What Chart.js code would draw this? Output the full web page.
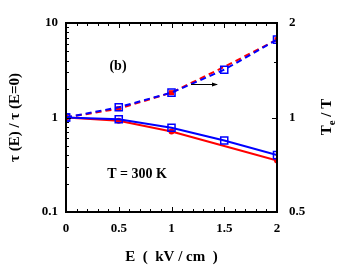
<!DOCTYPE html>
<html>
<head>
<meta charset="utf-8">
<script src="https://cdn.jsdelivr.net/npm/chart.js@4"></script>
<style>
  body { margin: 0; background: #fff; }
</style>
</head>
<body>
<canvas id="myChart" width="340" height="273"></canvas>
<script>
// values
var energy = [0, 0.5, 1, 1.5, 2];
var tauRed = [1, 0.925, 0.71, 0.50, 0.35];
var tauBlue = [1, 0.957, 0.78, 0.57, 0.40];
var teRed = [1, 1.067, 1.20, 1.45, 1.77];
var teBlue = [1, 1.078, 1.20, 1.42, 1.77];
var xTicks = [0, 0.5, 1, 1.5, 2];
var leftTicks = [0.1, 1, 10];
var rightTicks = [0.5, 1, 2];

var serif = '"Liberation Serif", "DejaVu Serif", serif';

function pts(ys) {
  return energy.map(function (x, i) { return { x: x, y: ys[i] }; });
}

// frame, inward ticks, labels and arrow
var extras = {
  id: 'extras',
  afterDraw: function (chart) {
    var c = chart.ctx, a = chart.chartArea;
    var sx = chart.scales.x, sy = chart.scales.y, sy2 = chart.scales.y2;
    c.save();
    c.strokeStyle = '#000';
    c.lineWidth = 1;
    c.beginPath();
    // x ticks top and bottom
    for (var i = 0; i <= 20; i++) {
      var v = i / 10;
      var px = Math.round(sx.getPixelForValue(v)) + 0.5;
      var len = (i % 5 === 0) ? 5 : 3;
      c.moveTo(px, a.bottom); c.lineTo(px, a.bottom - len);
      c.moveTo(px, a.top); c.lineTo(px, a.top + len);
    }
    // left log ticks
    [0.1, 1].forEach(function (dec) {
      for (var k = 1; k <= 9; k++) {
        var py = Math.round(sy.getPixelForValue(k * dec)) + 0.5;
        var l = (k === 1) ? 5 : 3;
        c.moveTo(a.left, py); c.lineTo(a.left + l, py);
      }
    });
    // right ticks
    [0.5, 1, 1.5, 2].forEach(function (v) {
      var py = Math.round(sy2.getPixelForValue(v)) + 0.5;
      var l = rightTicks.indexOf(v) >= 0 ? 5 : 3;
      c.moveTo(a.right, py); c.lineTo(a.right - l, py);
    });
    c.stroke();

    // frame
    c.lineWidth = 2;
    c.strokeRect(a.left, a.top, a.right - a.left, a.bottom - a.top);

    // labels inside plot
    c.fillStyle = '#000';
    c.font = 'bold 14px ' + serif;
    c.textAlign = 'center';
    c.textBaseline = 'middle';
    c.fillText('(b)', 118, 66);
    c.fillText('T = 300 K', 137, 174);

    // arrow pointing to right axis
    c.lineWidth = 1;
    c.beginPath();
    c.moveTo(191, 84.5); c.lineTo(217, 84.5);
    c.stroke();
    c.beginPath();
    c.moveTo(218, 84.5); c.lineTo(212, 82.5); c.lineTo(212, 86.5);
    c.closePath();
    c.fill();

    // right axis title with subscript
    c.translate(326, 117);
    c.rotate(-Math.PI / 2);
    c.textAlign = 'left';
    c.textBaseline = 'alphabetic';
    c.font = 'bold 15px ' + serif;
    var w1 = c.measureText('T').width;
    c.font = 'bold 11px ' + serif;
    var w2 = c.measureText('e').width;
    c.font = 'bold 15px ' + serif;
    var w3 = c.measureText(' / T').width;
    var x0 = -(w1 + w2 + w3) / 2;
    c.fillText('T', x0, 5);
    c.font = 'bold 11px ' + serif;
    c.fillText('e', x0 + w1, 9);
    c.font = 'bold 15px ' + serif;
    c.fillText(' / T', x0 + w1 + w2, 5);
    c.restore();
  }
};

var ctx = document.getElementById('myChart').getContext('2d');
var myChart = new Chart(ctx, {
  type: 'line',
  data: {
    datasets: [
      {
        label: 'Te/T blue',
        data: pts(teBlue),
        yAxisID: 'y2',
        borderColor: '#0000ff',
        borderWidth: 2,
        borderDash: [6, 4],
        pointStyle: 'rect',
        pointRadius: 5,
        pointBorderColor: '#0000ff',
        pointBorderWidth: 1.5,
        pointBackgroundColor: 'rgba(0,0,0,0)',
        order: 0
      },
      {
        label: 'tau blue',
        data: pts(tauBlue),
        yAxisID: 'y',
        borderColor: '#0000ff',
        borderWidth: 2,
        pointStyle: 'rect',
        pointRadius: 5,
        pointBorderColor: '#0000ff',
        pointBorderWidth: 1.5,
        pointBackgroundColor: 'rgba(0,0,0,0)',
        order: 1
      },
      {
        label: 'Te/T red',
        data: pts(teRed),
        yAxisID: 'y2',
        borderColor: '#ff0000',
        borderWidth: 2,
        borderDash: [6, 4],
        pointStyle: 'rect',
        pointRadius: [3.5, 3.5, 3.5, 0, 3.5],
        pointBorderWidth: 0,
        pointBackgroundColor: '#ff0000',
        order: 2
      },
      {
        label: 'tau red',
        data: pts(tauRed),
        yAxisID: 'y',
        borderColor: '#ff0000',
        borderWidth: 2,
        pointStyle: 'circle',
        pointRadius: [3, 3, 3, 0, 3],
        pointBorderWidth: 0,
        pointBackgroundColor: '#ff0000',
        order: 3
      }
    ]
  },
  options: {
    responsive: false,
    animation: false,
    layout: { padding: { top: 23, left: 0, right: 0, bottom: 0 } },
    plugins: {
      legend: { display: false },
      tooltip: { enabled: false }
    },
    scales: {
      x: {
        type: 'linear',
        min: 0,
        max: 2,
        afterBuildTicks: function (s) { s.ticks = xTicks.map(function (v) { return { value: v }; }); },
        afterFit: function (s) { s.height = 61; },
        grid: { display: false, drawTicks: false, tickLength: 0 },
        border: { display: false },
        ticks: {
          color: '#000',
          padding: 9,
          font: { family: serif, size: 13, weight: 'bold' },
          callback: function (v) { return String(v); }
        },
        title: {
          display: true,
          text: 'E  (  kV / cm  )',
          color: '#000',
          font: { family: serif, size: 15, weight: 'bold' },
          padding: { top: 0, bottom: 7 }
        }
      },
      y: {
        type: 'logarithmic',
        position: 'left',
        min: 0.1,
        max: 10,
        afterBuildTicks: function (s) { s.ticks = leftTicks.map(function (v) { return { value: v }; }); },
        afterFit: function (s) { s.width = 66; },
        grid: { display: false, drawTicks: false, tickLength: 0 },
        border: { display: false },
        ticks: {
          color: '#000',
          padding: 8,
          font: { family: serif, size: 13, weight: 'bold' },
          callback: function (v) { return String(v); }
        },
        title: {
          display: true,
          text: 'τ (E) / τ (E=0)',
          color: '#000',
          font: { family: serif, size: 15, weight: 'bold' },
          padding: { top: 6, bottom: 0 }
        }
      },
      y2: {
        type: 'logarithmic',
        position: 'right',
        min: 0.5,
        max: 2,
        afterBuildTicks: function (s) { s.ticks = rightTicks.map(function (v) { return { value: v }; }); },
        afterFit: function (s) { s.width = 63; },
        grid: { display: false, drawTicks: false, tickLength: 0 },
        border: { display: false },
        ticks: {
          color: '#000',
          padding: 12,
          font: { family: serif, size: 13, weight: 'bold' },
          callback: function (v) { return String(v); }
        }
      }
    }
  },
  plugins: [extras]
});
</script>
</body>
</html>
